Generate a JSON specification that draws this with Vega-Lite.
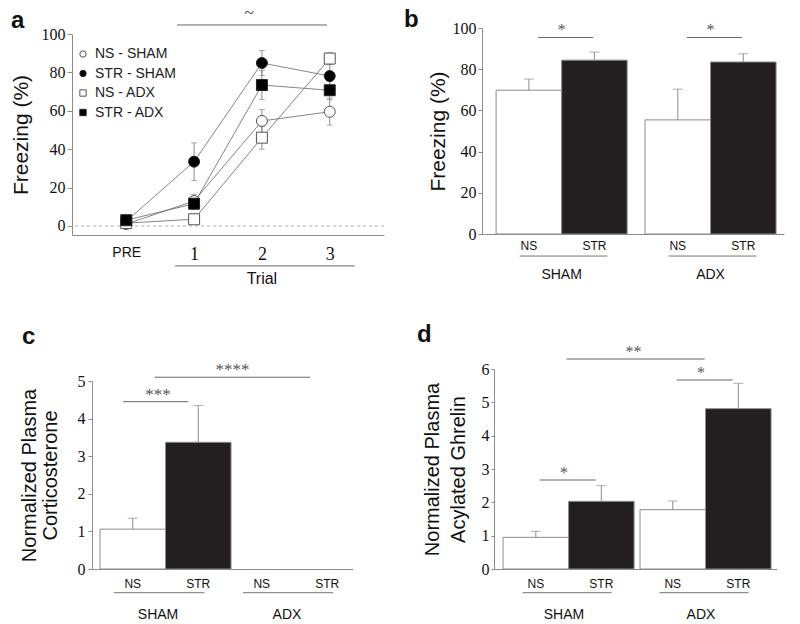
{
"$schema": "https://vega.github.io/schema/vega-lite/v6.json",
"background": "white",
"padding": {"left": 10, "top": 5, "right": 5, "bottom": 5},
"columns": 2,
"spacing": {"row": 134, "column": 98},
"bounds": "flush",
"resolve": {"scale": {"fill": "independent", "shape": "independent", "stroke": "independent"}, "legend": {"fill": "independent", "shape": "independent", "stroke": "independent"}},
"config": {
 "view": {"stroke": null},
 "font": "Liberation Sans",
 "axis": {"grid": false, "labelOverlap": false, "domainColor": "#8c8c8c", "tickColor": "#8c8c8c", "labelColor": "#111", "titleColor": "#111", "titleFont": "Liberation Sans", "titleFontWeight": "normal", "labelFont": "Liberation Serif"},
 "title": {"font": "Liberation Sans", "fontSize": 24, "fontWeight": "bold", "anchor": "start", "color": "#111", "frame": "group"},
 "text": {"font": "Liberation Sans", "color": "#111"}
},
"datasets": {
 "a": [
  {"group": "NS - SHAM", "trial": 0, "mean": 1.0, "sem": 0.5},
  {"group": "NS - SHAM", "trial": 1, "mean": 13.0, "sem": 3.5},
  {"group": "NS - SHAM", "trial": 2, "mean": 54.7, "sem": 6},
  {"group": "NS - SHAM", "trial": 3, "mean": 59.5, "sem": 7},
  {"group": "STR - SHAM", "trial": 0, "mean": 2.5, "sem": 1},
  {"group": "STR - SHAM", "trial": 1, "mean": 33.5, "sem": 9.8},
  {"group": "STR - SHAM", "trial": 2, "mean": 84.9, "sem": 6.5},
  {"group": "STR - SHAM", "trial": 3, "mean": 78.1, "sem": 6},
  {"group": "NS - ADX", "trial": 0, "mean": 1.5, "sem": 0.8},
  {"group": "NS - ADX", "trial": 1, "mean": 3.5, "sem": 1.5},
  {"group": "NS - ADX", "trial": 2, "mean": 46.0, "sem": 6},
  {"group": "NS - ADX", "trial": 3, "mean": 87.2, "sem": 3},
  {"group": "STR - ADX", "trial": 0, "mean": 3.0, "sem": 1},
  {"group": "STR - ADX", "trial": 1, "mean": 11.6, "sem": 3},
  {"group": "STR - ADX", "trial": 2, "mean": 73.4, "sem": 7.5},
  {"group": "STR - ADX", "trial": 3, "mean": 70.7, "sem": 5}
 ],
 "b": [
  {"surgery": "SHAM", "cond": "NS", "mean": 69.8, "upper": 75.2},
  {"surgery": "SHAM", "cond": "STR", "mean": 84.4, "upper": 88.3},
  {"surgery": "ADX", "cond": "NS", "mean": 55.4, "upper": 70.3},
  {"surgery": "ADX", "cond": "STR", "mean": 83.5, "upper": 87.5}
 ],
 "c": [
  {"surgery": "SHAM", "cond": "NS", "mean": 1.06, "upper": 1.35},
  {"surgery": "SHAM", "cond": "STR", "mean": 3.37, "upper": 4.35},
  {"surgery": "ADX", "cond": "NS", "mean": null, "upper": null},
  {"surgery": "ADX", "cond": "STR", "mean": null, "upper": null}
 ],
 "d": [
  {"surgery": "SHAM", "cond": "NS", "mean": 0.95, "upper": 1.13},
  {"surgery": "SHAM", "cond": "STR", "mean": 2.03, "upper": 2.5},
  {"surgery": "ADX", "cond": "NS", "mean": 1.78, "upper": 2.04},
  {"surgery": "ADX", "cond": "STR", "mean": 4.81, "upper": 5.57}
 ]
},
"concat": [
 {
  "width": 312, "height": 207,
  "title": {"text": "a", "dx": -61, "dy": 30, "offset": 2},
  "data": {"name": "a"},
  "layer": [
   {"data": {"values": [{}]}, "mark": {"type": "rule", "strokeDash": [3, 3], "color": "#999", "strokeWidth": 0.8}, "encoding": {"y": {"datum": 0, "type": "quantitative", "scale": {"domain": [-4.7, 100], "range": [207, 6], "nice": false, "zero": false}, "title": "Freezing (%)"}}},
   {"mark": {"type": "errorbar", "color": "#8c8c8c", "thickness": 1, "ticks": {"size": 6, "color": "#8c8c8c"}},
    "encoding": {
     "x": {"field": "trial", "type": "quantitative", "scale": {"domain": [-0.8, 3.8], "nice": false, "zero": false}, "title": null},
     "y": {"field": "mean", "type": "quantitative", "scale": {"domain": [-4.7, 100], "range": [207, 6], "nice": false, "zero": false}, "title": "Freezing (%)"},
     "yError": {"field": "sem"}
    }},
   {"mark": {"type": "line", "color": "#666", "strokeWidth": 0.8},
    "encoding": {
     "x": {"field": "trial", "type": "quantitative", "title": null},
     "y": {"field": "mean", "type": "quantitative", "title": "Freezing (%)"},
     "detail": {"field": "group"}
    }},
   {"mark": {"type": "point", "filled": true, "size": 120, "strokeWidth": 1, "opacity": 1},
    "encoding": {
     "x": {"field": "trial", "type": "quantitative", "title": null,
       "axis": {"values": [0, 1, 2, 3], "labelExpr": "datum.value == 0 ? 'PRE' : datum.value", "ticks": false, "tickSize": 0, "labelPadding": 10,
        "labelFont": {"condition": {"test": "datum.value == 0", "value": "Liberation Sans"}, "value": "Liberation Serif"},
        "labelFontSize": {"condition": {"test": "datum.value == 0", "value": 14}, "value": 18}}},
     "y": {"field": "mean", "type": "quantitative", "title": "Freezing (%)",
       "axis": {"values": [0, 20, 40, 60, 80, 100], "labelOverlap": false, "title": "Freezing (%)", "titleFontSize": 21, "titlePadding": 10, "labelFontSize": 16, "tickSize": 5, "labelPadding": 2}},
     "shape": {"field": "group", "type": "nominal", "scale": {"domain": ["NS - SHAM", "STR - SHAM", "NS - ADX", "STR - ADX"], "range": ["circle", "circle", "square", "square"]},
       "legend": {"title": null, "orient": "none", "legendX": 4, "legendY": 19, "symbolSize": 40, "symbolStrokeWidth": 1, "labelFont": "Liberation Sans", "labelFontSize": 14, "labelColor": "#222", "rowPadding": 5.5, "labelOffset": 5}},
     "fill": {"field": "group", "type": "nominal", "scale": {"domain": ["NS - SHAM", "STR - SHAM", "NS - ADX", "STR - ADX"], "range": ["#ffffff", "#000000", "#ffffff", "#000000"]},
       "legend": {"title": null, "orient": "none", "legendX": 4, "legendY": 19, "symbolSize": 40, "symbolStrokeWidth": 1, "labelFont": "Liberation Sans", "labelFontSize": 14, "labelColor": "#222", "rowPadding": 5.5, "labelOffset": 5}},
     "stroke": {"field": "group", "type": "nominal", "scale": {"domain": ["NS - SHAM", "STR - SHAM", "NS - ADX", "STR - ADX"], "range": ["#555555", "#222222", "#555555", "#222222"]},
       "legend": {"title": null, "orient": "none", "legendX": 4, "legendY": 19, "symbolSize": 40, "symbolStrokeWidth": 1, "labelFont": "Liberation Sans", "labelFontSize": 14, "labelColor": "#222", "rowPadding": 5.5, "labelOffset": 5}}
    }},
   {"data": {"values": [{}]}, "mark": {"type": "rule", "color": "#666", "strokeWidth": 1},
    "encoding": {"x": {"datum": 0.75, "type": "quantitative"}, "x2": {"datum": 2.96}, "y": {"datum": 104.7, "type": "quantitative"}}},
   {"data": {"values": [{}]}, "mark": {"type": "text", "text": "~", "font": "Liberation Serif", "fontSize": 18, "color": "#555", "baseline": "middle"},
    "encoding": {"x": {"datum": 1.81, "type": "quantitative"}, "y": {"datum": 110.4, "type": "quantitative"}}},
   {"data": {"values": [{}]}, "mark": {"type": "rule", "color": "#666", "strokeWidth": 1},
    "encoding": {"x": {"datum": 0.72, "type": "quantitative"}, "x2": {"datum": 3.37}, "y": {"datum": -20.8, "type": "quantitative"}}},
   {"data": {"values": [{}]}, "mark": {"type": "text", "text": "Trial", "fontSize": 16, "baseline": "middle"},
    "encoding": {"x": {"datum": 2.0, "type": "quantitative"}, "y": {"datum": -27.6, "type": "quantitative"}}}
  ]
 },
 {
  "width": 302, "height": 206,
  "title": {"text": "b", "dx": -78, "dy": 8, "offset": -4},
  "data": {"name": "b"},
  "layer": [
   {"mark": {"type": "bar", "stroke": "#8c8c8c", "strokeWidth": 1},
    "encoding": {
     "x": {"field": "surgery", "type": "nominal", "title": null, "scale": {"domain": ["SHAM", "ADX"], "paddingInner": 0.12, "paddingOuter": 0.074, "align": 0.64},
       "axis": {"ticks": false, "tickSize": 0, "labelAngle": 0, "labelFont": "Liberation Sans", "labelFontSize": 14, "labelPadding": 33}},
     "xOffset": {"field": "cond", "type": "nominal", "scale": {"domain": ["NS", "STR"]}},
     "y": {"field": "mean", "type": "quantitative", "title": "Freezing (%)", "scale": {"domain": [0, 100], "nice": false},
       "axis": {"values": [0, 20, 40, 60, 80, 100], "labelOverlap": false, "title": "Freezing (%)", "titleFontSize": 21, "titlePadding": 4, "labelFontSize": 16, "tickSize": 4, "labelPadding": 2}},
     "fill": {"field": "cond", "type": "nominal", "scale": {"domain": ["NS", "STR"], "range": ["#ffffff", "#231f20"]}, "legend": null}
    }},
   {"mark": {"type": "rule", "color": "#8c8c8c"},
    "encoding": {
     "x": {"field": "surgery", "type": "nominal", "title": null},
     "xOffset": {"field": "cond", "type": "nominal"},
     "y": {"field": "mean", "type": "quantitative", "title": "Freezing (%)"},
     "y2": {"field": "upper"}
    }},
   {"mark": {"type": "tick", "color": "#8c8c8c", "size": 10, "thickness": 1, "orient": "horizontal"},
    "encoding": {
     "x": {"field": "surgery", "type": "nominal", "title": null},
     "xOffset": {"field": "cond", "type": "nominal"},
     "y": {"field": "upper", "type": "quantitative", "title": "Freezing (%)"}
    }},
   {"mark": {"type": "text", "baseline": "top", "dy": 7, "fontSize": 12},
    "encoding": {
     "x": {"field": "surgery", "type": "nominal", "title": null},
     "xOffset": {"field": "cond", "type": "nominal"},
     "y": {"datum": 0, "type": "quantitative", "title": "Freezing (%)"},
     "text": {"field": "cond"}
    }},
   {"transform": [{"filter": "datum.cond == 'NS'"}], "mark": {"type": "rule", "color": "#777"},
    "encoding": {
     "x": {"field": "surgery", "type": "nominal", "title": null, "bandPosition": 0.18},
     "x2": {"field": "surgery", "bandPosition": 0.85},
     "y": {"datum": -10.7, "type": "quantitative", "title": "Freezing (%)"}
    }},
   {"data": {"values": [{"s": "SHAM", "lev": 95.4}, {"s": "ADX", "lev": 95.4}]}, "mark": {"type": "rule", "color": "#666"},
    "encoding": {
     "x": {"field": "s", "type": "nominal", "title": null, "bandPosition": 0.32},
     "x2": {"field": "s", "bandPosition": 0.74},
     "y": {"field": "lev", "type": "quantitative", "title": "Freezing (%)"}
    }},
   {"data": {"values": [{"s": "SHAM", "lev": 95.4, "lab": "*"}, {"s": "ADX", "lev": 95.4, "lab": "*"}]}, "mark": {"type": "text", "dy": -2, "baseline": "alphabetic", "font": "Liberation Serif", "fontSize": 16, "color": "#555"},
    "encoding": {
     "x": {"field": "s", "type": "nominal", "title": null},
     "y": {"field": "lev", "type": "quantitative", "title": "Freezing (%)"},
     "text": {"field": "lab"}
    }}
  ]
 },
 {
  "width": 281, "height": 200,
  "title": {"text": "c", "dx": -50, "dy": 8, "offset": 20},
  "data": {"name": "c"},
  "layer": [
   {"mark": {"type": "bar", "stroke": "#8c8c8c", "strokeWidth": 1},
    "encoding": {
     "x": {"field": "surgery", "type": "nominal", "title": null, "scale": {"domain": ["SHAM", "ADX"], "range": [20, 281], "paddingInner": 0.1, "paddingOuter": 0.062},
       "axis": {"ticks": false, "tickSize": 0, "labelAngle": 0, "labelFont": "Liberation Sans", "labelFontSize": 14, "labelPadding": 38}},
     "xOffset": {"field": "cond", "type": "nominal", "scale": {"domain": ["NS", "STR"]}},
     "y": {"field": "mean", "type": "quantitative", "title": ["Normalized Plasma", "Corticosterone"], "scale": {"domain": [0, 5], "range": [200, 12], "nice": false},
       "axis": {"values": [0, 1, 2, 3, 4, 5], "tickCount": 6, "labelOverlap": false, "offset": -20, "title": ["Normalized Plasma", "Corticosterone"], "titleFontSize": 20, "titleLineHeight": 21, "titlePadding": 17, "labelFontSize": 16, "tickSize": 4, "labelPadding": 3}},
     "fill": {"field": "cond", "type": "nominal", "scale": {"domain": ["NS", "STR"], "range": ["#ffffff", "#231f20"]}, "legend": null}
    }},
   {"mark": {"type": "rule", "color": "#8c8c8c"},
    "encoding": {
     "x": {"field": "surgery", "type": "nominal", "title": null},
     "xOffset": {"field": "cond", "type": "nominal"},
     "y": {"field": "mean", "type": "quantitative", "title": ["Normalized Plasma", "Corticosterone"]},
     "y2": {"field": "upper"}
    }},
   {"mark": {"type": "tick", "color": "#8c8c8c", "size": 10, "thickness": 1, "orient": "horizontal"},
    "encoding": {
     "x": {"field": "surgery", "type": "nominal", "title": null},
     "xOffset": {"field": "cond", "type": "nominal"},
     "y": {"field": "upper", "type": "quantitative", "title": ["Normalized Plasma", "Corticosterone"]}
    }},
   {"mark": {"type": "text", "baseline": "top", "dy": 10, "fontSize": 12},
    "encoding": {
     "x": {"field": "surgery", "type": "nominal", "title": null},
     "xOffset": {"field": "cond", "type": "nominal"},
     "y": {"datum": 0, "type": "quantitative", "title": ["Normalized Plasma", "Corticosterone"]},
     "text": {"field": "cond"}
    }},
   {"transform": [{"filter": "datum.cond == 'NS'"}], "mark": {"type": "rule", "color": "#777"},
    "encoding": {
     "x": {"field": "surgery", "type": "nominal", "title": null, "bandPosition": 0.12},
     "x2": {"field": "surgery", "bandPosition": 0.9},
     "y": {"datum": -0.63, "type": "quantitative", "title": ["Normalized Plasma", "Corticosterone"]}
    }},
   {"data": {"values": [{"s1": "SHAM", "s2": "SHAM", "lev": 4.45}]}, "mark": {"type": "rule", "color": "#666"},
    "encoding": {
     "x": {"field": "s1", "type": "nominal", "title": null, "bandPosition": 0.2},
     "x2": {"field": "s2", "bandPosition": 0.76},
     "y": {"field": "lev", "type": "quantitative", "title": ["Normalized Plasma", "Corticosterone"]}
    }},
   {"data": {"values": [{"s1": "SHAM", "s2": "ADX", "lev": 5.1}]}, "mark": {"type": "rule", "color": "#666"},
    "encoding": {
     "x": {"field": "s1", "type": "nominal", "title": null, "bandPosition": 0.47},
     "x2": {"field": "s2", "bandPosition": 0.7},
     "y": {"field": "lev", "type": "quantitative", "title": ["Normalized Plasma", "Corticosterone"]}
    }},
   {"data": {"values": [{"s": "SHAM", "lev": 4.45, "lab": "***"}]}, "mark": {"type": "text", "dy": -2, "baseline": "alphabetic", "font": "Liberation Serif", "fontSize": 17, "color": "#555"},
    "encoding": {
     "x": {"field": "s", "type": "nominal", "title": null},
     "y": {"field": "lev", "type": "quantitative", "title": ["Normalized Plasma", "Corticosterone"]},
     "text": {"field": "lab"}
    }},
   {"data": {"values": [{"s": "ADX", "lev": 5.1, "lab": "****"}]}, "mark": {"type": "text", "dy": -2, "baseline": "alphabetic", "font": "Liberation Serif", "fontSize": 17, "color": "#555"},
    "encoding": {
     "x": {"field": "s", "type": "nominal", "title": null, "bandPosition": 0.03},
     "y": {"field": "lev", "type": "quantitative", "title": ["Normalized Plasma", "Corticosterone"]},
     "text": {"field": "lab"}
    }}
  ]
 },
 {
  "width": 295, "height": 200,
  "title": {"text": "d", "dx": -65, "dy": 13, "offset": 10},
  "data": {"name": "d"},
  "layer": [
   {"mark": {"type": "bar", "stroke": "#8c8c8c", "strokeWidth": 1},
    "encoding": {
     "x": {"field": "surgery", "type": "nominal", "title": null, "scale": {"domain": ["SHAM", "ADX"], "range": [12, 295], "paddingInner": 0.11, "paddingOuter": 0.088, "align": 0.375},
       "axis": {"ticks": false, "tickSize": 0, "labelAngle": 0, "labelFont": "Liberation Sans", "labelFontSize": 14, "labelPadding": 38}},
     "xOffset": {"field": "cond", "type": "nominal", "scale": {"domain": ["NS", "STR"]}},
     "y": {"field": "mean", "type": "quantitative", "title": ["Normalized Plasma", "Acylated Ghrelin"], "scale": {"domain": [0, 6], "nice": false},
       "axis": {"values": [0, 1, 2, 3, 4, 5, 6], "tickCount": 7, "labelOverlap": false, "offset": -12, "title": ["Normalized Plasma", "Acylated Ghrelin"], "titleFontSize": 20, "titleLineHeight": 26, "titlePadding": 13, "labelFontSize": 16, "tickSize": 3, "labelPadding": 2}},
     "fill": {"field": "cond", "type": "nominal", "scale": {"domain": ["NS", "STR"], "range": ["#ffffff", "#231f20"]}, "legend": null}
    }},
   {"mark": {"type": "rule", "color": "#8c8c8c"},
    "encoding": {
     "x": {"field": "surgery", "type": "nominal", "title": null},
     "xOffset": {"field": "cond", "type": "nominal"},
     "y": {"field": "mean", "type": "quantitative", "title": ["Normalized Plasma", "Acylated Ghrelin"]},
     "y2": {"field": "upper"}
    }},
   {"mark": {"type": "tick", "color": "#8c8c8c", "size": 10, "thickness": 1, "orient": "horizontal"},
    "encoding": {
     "x": {"field": "surgery", "type": "nominal", "title": null},
     "xOffset": {"field": "cond", "type": "nominal"},
     "y": {"field": "upper", "type": "quantitative", "title": ["Normalized Plasma", "Acylated Ghrelin"]}
    }},
   {"mark": {"type": "text", "baseline": "top", "dy": 10, "fontSize": 12},
    "encoding": {
     "x": {"field": "surgery", "type": "nominal", "title": null},
     "xOffset": {"field": "cond", "type": "nominal"},
     "y": {"datum": 0, "type": "quantitative", "title": ["Normalized Plasma", "Acylated Ghrelin"]},
     "text": {"field": "cond"}
    }},
   {"transform": [{"filter": "datum.cond == 'NS'"}], "mark": {"type": "rule", "color": "#777"},
    "encoding": {
     "x": {"field": "surgery", "type": "nominal", "title": null, "bandPosition": 0.16},
     "x2": {"field": "surgery", "bandPosition": 0.89},
     "y": {"datum": -0.71, "type": "quantitative", "title": ["Normalized Plasma", "Acylated Ghrelin"]}
    }},
   {"data": {"values": [{"s1": "SHAM", "s2": "SHAM", "lev": 2.67}, {"s1": "ADX", "s2": "ADX", "lev": 5.67}]}, "mark": {"type": "rule", "color": "#666"},
    "encoding": {
     "x": {"field": "s1", "type": "nominal", "title": null, "bandPosition": 0.3},
     "x2": {"field": "s2", "bandPosition": 0.76},
     "y": {"field": "lev", "type": "quantitative", "title": ["Normalized Plasma", "Acylated Ghrelin"]}
    }},
   {"data": {"values": [{"s1": "SHAM", "s2": "ADX", "lev": 6.3}]}, "mark": {"type": "rule", "color": "#666"},
    "encoding": {
     "x": {"field": "s1", "type": "nominal", "title": null, "bandPosition": 0.52},
     "x2": {"field": "s2", "bandPosition": 0.53},
     "y": {"field": "lev", "type": "quantitative", "title": ["Normalized Plasma", "Acylated Ghrelin"]}
    }},
   {"data": {"values": [{"s": "SHAM", "lev": 2.67, "lab": "*"}, {"s": "ADX", "lev": 5.67, "lab": "*"}]}, "mark": {"type": "text", "dy": -2, "baseline": "alphabetic", "font": "Liberation Serif", "fontSize": 16, "color": "#555"},
    "encoding": {
     "x": {"field": "s", "type": "nominal", "title": null},
     "y": {"field": "lev", "type": "quantitative", "title": ["Normalized Plasma", "Acylated Ghrelin"]},
     "text": {"field": "lab"}
    }},
   {"data": {"values": [{"s": "SHAM", "lev": 6.3, "lab": "**"}]}, "mark": {"type": "text", "dy": -2, "baseline": "alphabetic", "font": "Liberation Serif", "fontSize": 16, "color": "#555"},
    "encoding": {
     "x": {"field": "s", "type": "nominal", "title": null, "bandPosition": 1.07},
     "y": {"field": "lev", "type": "quantitative", "title": ["Normalized Plasma", "Acylated Ghrelin"]},
     "text": {"field": "lab"}
    }}
  ]
 }
]
}
